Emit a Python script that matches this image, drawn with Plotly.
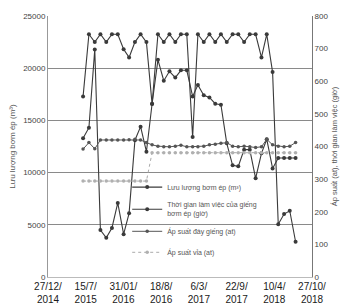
import plotly.graph_objects as go

months = ["2015-07-01","2015-08-01","2015-09-01","2015-10-01","2015-11-01","2015-12-01",
          "2016-01-01","2016-02-01","2016-03-01","2016-04-01","2016-05-01","2016-06-01",
          "2016-07-01","2016-08-01","2016-09-01","2016-10-01","2016-11-01","2016-12-01",
          "2017-01-01","2017-02-01","2017-03-01","2017-04-01","2017-05-01","2017-06-01",
          "2017-07-01","2017-08-01","2017-09-01","2017-10-01","2017-11-01","2017-12-01",
          "2018-01-01","2018-02-01","2018-03-01","2018-04-01","2018-05-01","2018-06-01",
          "2018-07-01","2018-08-01"]

flow_m3 = [13300,14300,21800,4500,3750,4700,7100,4100,6100,13100,14400,12000,
           16600,20800,18800,19700,19100,19800,19800,17300,18400,17400,17200,16600,
           16500,12800,10700,10600,12200,12200,9450,11850,13200,10400,11400,11400,
           11400,11400]

work_hours = [553,744,720,744,720,744,744,698,673,720,744,720,
              530,744,720,744,720,744,744,429,744,720,744,720,
              744,720,744,744,720,744,744,673,744,628,162,193,
              203,108]

bottom_pressure = [392,412,393,420,420,420,420,420,421,422,420,412,
                   405,401,399,399,401,404,399,399,399,401,405,407,
                   410,412,401,399,401,399,397,399,422,405,401,399,
                   401,412]

reservoir_pressure = [294]*12 + [381]*26

tick_dates = ["2014-12-27","2015-07-15","2016-01-31","2016-08-18",
              "2017-03-06","2017-09-22","2018-04-10","2018-10-27"]
tick_text = ["27/12/<br>2014","15/7/<br>2015","31/01/<br>2016","18/8/<br>2016",
             "6/3/<br>2017","22/9/<br>2017","10/4/<br>2018","27/10/<br>2018"]

dark = "#3a3a3a"
fig = go.Figure()
fig.add_trace(go.Scatter(x=months, y=flow_m3, name="Lưu lượng bơm ép (m³)",
                         mode="lines+markers", yaxis="y", legendgroup="a",
                         line=dict(color=dark, width=1.1),
                         marker=dict(color=dark, size=4)))
fig.add_trace(go.Scatter(x=months, y=work_hours,
                         name="Thời gian làm việc của giếng<br>bơm ép (giờ)",
                         mode="lines+markers", yaxis="y2", legendgroup="b",
                         line=dict(color=dark, width=1.1),
                         marker=dict(color=dark, size=4)))
fig.add_trace(go.Scatter(x=months, y=bottom_pressure, name="Áp suất đáy giếng (at)",
                         mode="lines+markers", yaxis="y2", legendgroup="c",
                         line=dict(color="#555", width=1),
                         marker=dict(color="#555", size=3.5)))
fig.add_trace(go.Scatter(x=months, y=reservoir_pressure, name="Áp suất vỉa (at)",
                         mode="lines+markers", yaxis="y2", legendgroup="d",
                         line=dict(color="#aaa", width=1, dash="dot"),
                         marker=dict(color="#b0b0b0", size=3.5)))

fig.update_layout(
    width=344, height=304,
    margin=dict(l=48, r=32, t=16, b=27),
    paper_bgcolor="white", plot_bgcolor="white",
    font=dict(family="Liberation Sans, Arial, sans-serif", color="#444"),
    showlegend=True,
    legend=dict(x=0.30, y=0.40, xanchor="left", yanchor="top",
                bgcolor="rgba(0,0,0,0)", font=dict(size=7, color="#555"),
                itemwidth=30, tracegroupgap=2),
    xaxis=dict(type="date", range=["2014-12-27", "2018-10-27"],
               tickvals=tick_dates, ticktext=tick_text, showgrid=False,
               tickfont=dict(size=10, color="#1a1a1a"),
               showline=True, linecolor="#bbb", linewidth=1, ticks="", automargin=False),
    yaxis=dict(range=[0, 25000], dtick=5000, tickformat="d", showgrid=True,
               gridcolor="#8a8a8a", gridwidth=1, zeroline=False, showline=True,
               linecolor="#999", tickfont=dict(size=8, color="#444"),
               title=dict(text="Lưu lượng bơm ép (m³)", font=dict(size=8, color="#555"),
                          standoff=6), automargin=False),
    yaxis2=dict(range=[0, 800], dtick=100, overlaying="y", side="right",
                showgrid=False, zeroline=False, showline=True, linecolor="#777",
                tickfont=dict(size=8, color="#444"),
                title=dict(text="Áp suất (at), thời gian làm việc (giờ)",
                           font=dict(size=7.5, color="#555"), standoff=4),
                automargin=False),
)
fig.write_html("out.html", config={"displayModeBar": False},
               post_script="document.body.style.margin='0';")
